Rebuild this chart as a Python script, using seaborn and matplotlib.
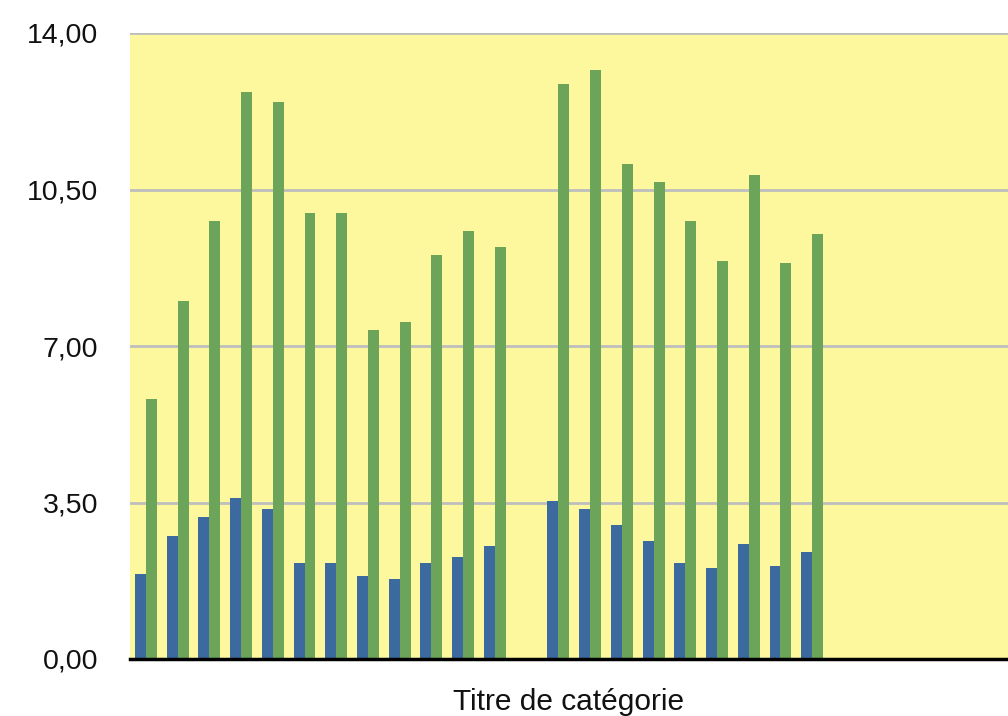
import pandas as pd
import numpy as np
import seaborn as sns
import matplotlib.pyplot as plt
from matplotlib.ticker import FuncFormatter

# categories (slot 12 stays empty, as in the original sheet)
categories = [f"c{i}" for i in range(22)]
data_categories = [c for i, c in enumerate(categories) if i != 12]

# values
serie_bleue = [1.91, 2.76, 3.17, 3.59, 3.35, 2.15, 2.15, 1.86, 1.79, 2.15, 2.27, 2.52,
               3.53, 3.35, 2.99, 2.63, 2.15, 2.04, 2.58, 2.09, 2.40]
serie_verte = [5.81, 8.01, 9.80, 12.68, 12.45, 9.98, 9.98, 7.36, 7.54, 9.04, 9.58, 9.22,
               12.86, 13.17, 11.06, 10.66, 9.80, 8.91, 10.83, 8.86, 9.51]
y_ticks = [0, 3.5, 7, 10.5, 14]

df = pd.DataFrame({
    'Categorie': data_categories * 2,
    'Serie': ['bleue'] * len(serie_bleue) + ['verte'] * len(serie_verte),
    'Valeur': serie_bleue + serie_verte,
})

plt.rcParams['font.family'] = ['Liberation Sans', 'DejaVu Sans']

fig = plt.figure(figsize=(10.08, 7.16), dpi=100)
ax = fig.add_axes([130 / 1008, 1 - 659 / 716, 1 - 130 / 1008, (659 - 33) / 716])
ax.set_facecolor('#FDF79E')

sns.barplot(data=df, x='Categorie', y='Valeur', hue='Serie', order=categories,
            hue_order=['bleue', 'verte'], palette=['#3D6A9E', '#6CA45A'],
            width=0.69, saturation=1, errorbar=None, legend=False, ax=ax,
            linewidth=0, zorder=3)

ax.set_xlim(-0.5, 27.17)
ax.set_ylim(0, 14)
ax.set_yticks(y_ticks)
ax.yaxis.set_major_formatter(FuncFormatter(lambda v, p: f"{v:.2f}".replace('.', ',')))
ax.tick_params(axis='y', length=0, pad=23, labelsize=20.5, labelcolor='#111111')
ax.set_xticks([])
ax.grid(axis='y', color='#BEBEBE', linewidth=2, zorder=1)
ax.set_axisbelow(True)

for s in ['top', 'right', 'left']:
    ax.spines[s].set_visible(False)
ax.spines['bottom'].set_color('black')
ax.spines['bottom'].set_linewidth(2.5)
ax.spines['bottom'].set_zorder(4)

ax.set_ylabel('')
ax.set_xlabel('Titre de catégorie', fontsize=21.5, labelpad=21, color='#111111')

fig.savefig('out.png', dpi=100)
